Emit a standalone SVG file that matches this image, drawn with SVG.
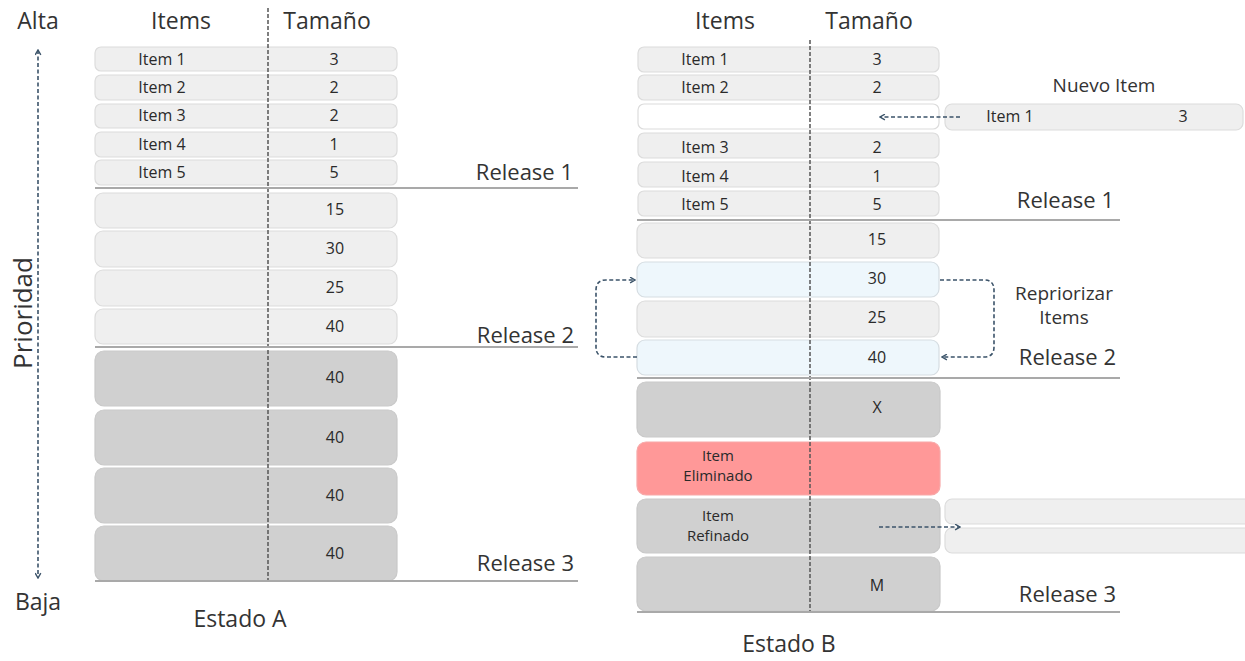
<svg xmlns="http://www.w3.org/2000/svg" width="1245" height="661" viewBox="0 0 1245 661">
  <style>
    text { font-family: "Open Sans", "Liberation Sans", sans-serif; fill: #333; }
    .hdr { font-size: 23px; text-anchor: middle; }
    .rel { font-size: 22px; text-anchor: end; }
    .sm { font-size: 16px; text-anchor: middle; fill: #2a2a2a; }
    .two { font-size: 15px; text-anchor: middle; fill: #2a2a2a; }
    .lbl { font-size: 19px; text-anchor: middle; }
    .light { fill: #efefef; stroke: #dcdcdc; stroke-width: 1.2; }
    .blue { fill: #eef7fc; stroke: #d6dde2; stroke-width: 1.2; }
    .dark { fill: #d0d0d0; stroke: #c9c9c9; stroke-width: 1.2; }
    .red { fill: #ff9898; stroke: #f7a8a8; stroke-width: 1.2; }
    .blank { fill: #ffffff; stroke: #dcdcdc; stroke-width: 1.2; }
    .relline { stroke: #a9a9a9; stroke-width: 2; }
    .divider { stroke: #555; stroke-width: 1.5; stroke-dasharray: 4 2; fill: none; }
    .conn { stroke: #3b5369; stroke-width: 1.6; stroke-dasharray: 4 2.5; fill: none; }
  </style>
  <defs>
    <marker id="arrow" viewBox="0 0 10 10" refX="8" refY="5" markerWidth="7" markerHeight="7" orient="auto-start-reverse" markerUnits="userSpaceOnUse">
      <path d="M1,1 L8,5 L1,9" fill="none" stroke="#3b5369" stroke-width="2"/>
    </marker>
  </defs>

  <rect width="1245" height="661" fill="#ffffff"/>

  <!-- Priority axis -->
  <g id="priority-axis">
    <text x="38" y="29" class="hdr">Alta</text>
    <text x="38" y="610" class="hdr">Baja</text>
    <text transform="translate(32 313) rotate(-90)" font-size="26" text-anchor="middle">Prioridad</text>
  </g>

  <!-- ===== Estado A ===== -->
  <g id="estado-a">
    <text x="181" y="29" class="hdr">Items</text>
    <text x="327" y="29" class="hdr">Tamaño</text>

    <g id="a-item1"><rect x="95" y="47" width="302" height="24" rx="6" class="light"/><text x="162" y="65" class="sm">Item 1</text><text x="334" y="65" class="sm">3</text></g>
    <g id="a-item2"><rect x="95" y="75" width="302" height="25" rx="6" class="light"/><text x="162" y="93" class="sm">Item 2</text><text x="334" y="93" class="sm">2</text></g>
    <g id="a-item3"><rect x="95" y="104" width="302" height="24" rx="6" class="light"/><text x="162" y="121" class="sm">Item 3</text><text x="334" y="121" class="sm">2</text></g>
    <g id="a-item4"><rect x="95" y="132" width="302" height="25" rx="6" class="light"/><text x="162" y="150" class="sm">Item 4</text><text x="334" y="150" class="sm">1</text></g>
    <g id="a-item5"><rect x="95" y="160" width="302" height="25" rx="6" class="light"/><text x="162" y="178" class="sm">Item 5</text><text x="334" y="178" class="sm">5</text></g>

    <g id="a-r2-1"><rect x="95" y="193" width="302" height="35" rx="8" class="light"/><text x="335" y="215" class="sm">15</text></g>
    <g id="a-r2-2"><rect x="95" y="231" width="302" height="36" rx="8" class="light"/><text x="335" y="254" class="sm">30</text></g>
    <g id="a-r2-3"><rect x="95" y="270" width="302" height="36" rx="8" class="light"/><text x="335" y="293" class="sm">25</text></g>
    <g id="a-r2-4"><rect x="95" y="309" width="302" height="35" rx="8" class="light"/><text x="335" y="332" class="sm">40</text></g>

    <g id="a-r3-1"><rect x="95" y="351" width="302" height="55" rx="9" class="dark"/><text x="335" y="383" class="sm">40</text></g>
    <g id="a-r3-2"><rect x="95" y="410" width="302" height="55" rx="9" class="dark"/><text x="335" y="443" class="sm">40</text></g>
    <g id="a-r3-3"><rect x="95" y="468" width="302" height="55" rx="9" class="dark"/><text x="335" y="501" class="sm">40</text></g>
    <g id="a-r3-4"><rect x="95" y="526" width="302" height="55" rx="9" class="dark"/><text x="335" y="559" class="sm">40</text></g>

    <line x1="268" y1="8" x2="268" y2="582" class="divider"/>

    <g id="a-releases">
      <line x1="95" y1="188" x2="578" y2="188" class="relline"/>
      <line x1="95" y1="347" x2="578" y2="347" class="relline"/>
      <line x1="95" y1="581" x2="578" y2="581" class="relline"/>
      <text x="573" y="180" class="rel">Release 1</text>
      <text x="574" y="343" class="rel">Release 2</text>
      <text x="574" y="571" class="rel">Release 3</text>
    </g>

    <text x="240" y="627" class="hdr">Estado A</text>
  </g>

  <!-- ===== Estado B ===== -->
  <g id="estado-b">
    <text x="725" y="29" class="hdr">Items</text>
    <text x="869" y="29" class="hdr">Tamaño</text>

    <g id="b-item1"><rect x="638" y="47" width="301" height="25" rx="6" class="light"/><text x="705" y="65" class="sm">Item 1</text><text x="877" y="65" class="sm">3</text></g>
    <g id="b-item2"><rect x="638" y="75" width="301" height="25" rx="6" class="light"/><text x="705" y="93" class="sm">Item 2</text><text x="877" y="93" class="sm">2</text></g>
    <g id="b-slot"><rect x="638" y="104" width="301" height="25" rx="6" class="blank"/></g>
    <g id="b-item3"><rect x="638" y="133" width="301" height="25" rx="6" class="light"/><text x="705" y="153" class="sm">Item 3</text><text x="877" y="153" class="sm">2</text></g>
    <g id="b-item4"><rect x="638" y="162" width="301" height="25" rx="6" class="light"/><text x="705" y="182" class="sm">Item 4</text><text x="877" y="182" class="sm">1</text></g>
    <g id="b-item5"><rect x="638" y="191" width="301" height="25" rx="6" class="light"/><text x="705" y="210" class="sm">Item 5</text><text x="877" y="210" class="sm">5</text></g>

    <g id="b-r2-1"><rect x="637" y="223" width="302" height="35" rx="8" class="light"/><text x="877" y="245" class="sm">15</text></g>
    <g id="b-r2-2"><rect x="637" y="262" width="302" height="35" rx="8" class="blue"/><text x="877" y="284" class="sm">30</text></g>
    <g id="b-r2-3"><rect x="637" y="301" width="302" height="36" rx="8" class="light"/><text x="877" y="323" class="sm">25</text></g>
    <g id="b-r2-4"><rect x="637" y="340" width="302" height="35" rx="8" class="blue"/><text x="877" y="363" class="sm">40</text></g>

    <g id="b-r3-x"><rect x="637" y="382" width="303" height="55" rx="9" class="dark"/><text x="877" y="413" class="sm">X</text></g>
    <g id="b-r3-eliminado"><rect x="637" y="442" width="303" height="53" rx="9" class="red"/><text x="718" y="461" class="two" fill="#3a1f1f">Item</text><text x="718" y="481" class="two" fill="#3a1f1f">Eliminado</text></g>
    <g id="b-r3-refinado"><rect x="637" y="499" width="303" height="54" rx="9" class="dark"/><text x="718" y="521" class="two">Item</text><text x="718" y="541" class="two">Refinado</text></g>
    <g id="b-r3-m"><rect x="637" y="557" width="303" height="54" rx="9" class="dark"/><text x="877" y="591" class="sm">M</text></g>

    <line x1="810" y1="40" x2="810" y2="613" class="divider"/>

    <g id="b-releases">
      <line x1="637" y1="220" x2="1120" y2="220" class="relline"/>
      <line x1="637" y1="378" x2="1120" y2="378" class="relline"/>
      <line x1="637" y1="612" x2="1120" y2="612" class="relline"/>
      <text x="1114" y="208" class="rel">Release 1</text>
      <text x="1116" y="365" class="rel">Release 2</text>
      <text x="1116" y="602" class="rel">Release 3</text>
    </g>

    <g id="nuevo-item">
      <text x="1104" y="92" class="lbl">Nuevo Item</text>
      <rect x="945" y="104" width="298" height="26" rx="7" class="light"/>
      <text x="1010" y="122" class="sm">Item 1</text>
      <text x="1183" y="122" class="sm">3</text>
    </g>

    <g id="repriorizar">
      <text x="1064" y="300" class="lbl">Repriorizar</text>
      <text x="1064" y="324" class="lbl">Items</text>
    </g>

    <g id="refinado-split">
      <rect x="945" y="499" width="310" height="25" rx="7" class="light"/>
      <rect x="945" y="528" width="310" height="25" rx="7" class="light"/>
    </g>

    <text x="789" y="652" class="hdr">Estado B</text>
  </g>

  <!-- Connectors -->
  <g id="connectors">
    <line x1="38" y1="50" x2="38" y2="578" class="conn" marker-start="url(#arrow)" marker-end="url(#arrow)"/>
    <line x1="960" y1="117" x2="880" y2="117" class="conn" marker-end="url(#arrow)"/>
    <path d="M637,357 H606 Q596,357 596,347 V290 Q596,280 606,280 H635" class="conn" marker-end="url(#arrow)"/>
    <path d="M940,280 H984 Q994,280 994,290 V347 Q994,357 984,357 H942" class="conn" marker-end="url(#arrow)"/>
    <line x1="879" y1="527" x2="960" y2="527" class="conn" marker-end="url(#arrow)"/>
  </g>
</svg>
